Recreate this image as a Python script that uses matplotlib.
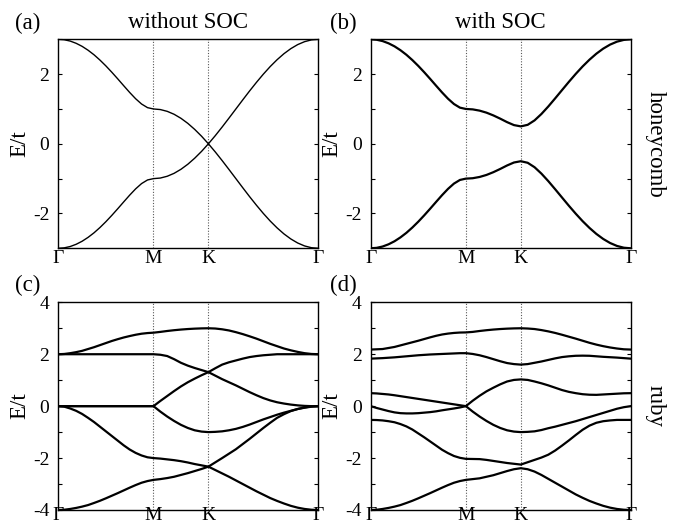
"""
Band structures: honeycomb and ruby lattices, without / with SOC.
Path Gamma-M-K-Gamma, energies in units of t (values read off the figure).
"""

import numpy as np
import matplotlib.pyplot as plt
from matplotlib.ticker import MultipleLocator, FuncFormatter

plt.rcParams['font.family'] = ['Liberation Serif', 'DejaVu Serif']
plt.rcParams['axes.unicode_minus'] = False

# segment lengths of the path Γ-M, M-K, K-Γ
SEG_LEN = [1 / np.sqrt(3), 1 / 3, 2 / 3]
K_LABELS = ['Γ', 'M', 'K', 'Γ']

# every band: 17 samples on Γ-M, then 8 on M-K, then 16 on K-Γ

# ---- honeycomb ----
HC_UP_NOSOC = [3.0, 2.987, 2.949, 2.885, 2.798, 2.687, 2.556, 2.404, 2.236,
               2.054, 1.863, 1.667, 1.474, 1.294, 1.142, 1.038, 1.0,
               0.983, 0.932, 0.848, 0.732, 0.587, 0.414, 0.218, 0.0,
               0.234, 0.482, 0.739, 1.0, 1.261, 1.518, 1.765, 2.0,
               2.218, 2.414, 2.587, 2.732, 2.848, 2.932, 2.983, 3.0]
HC_DN_NOSOC = [-3.0, -2.987, -2.949, -2.885, -2.798, -2.687, -2.556, -2.404, -2.236,
               -2.054, -1.863, -1.667, -1.474, -1.294, -1.142, -1.038, -1.0,
               -0.983, -0.932, -0.848, -0.732, -0.587, -0.414, -0.218, 0.0,
               -0.234, -0.482, -0.739, -1.0, -1.261, -1.518, -1.765, -2.0,
               -2.218, -2.414, -2.587, -2.732, -2.848, -2.932, -2.983, -3.0]

HC_UP_SOC = [3.0, 2.987, 2.949, 2.885, 2.798, 2.687, 2.556, 2.404, 2.236,
             2.054, 1.863, 1.667, 1.474, 1.294, 1.142, 1.038, 1.0,
             0.988, 0.952, 0.894, 0.815, 0.722, 0.622, 0.537, 0.5,
             0.545, 0.672, 0.856, 1.071, 1.304, 1.542, 1.779, 2.007,
             2.221, 2.415, 2.587, 2.732, 2.848, 2.932, 2.983, 3.0]
HC_DN_SOC = [-3.0, -2.987, -2.949, -2.885, -2.798, -2.687, -2.556, -2.404, -2.236,
             -2.054, -1.863, -1.667, -1.474, -1.294, -1.142, -1.038, -1.0,
             -0.988, -0.952, -0.894, -0.815, -0.722, -0.622, -0.537, -0.5,
             -0.545, -0.672, -0.856, -1.071, -1.304, -1.542, -1.779, -2.007,
             -2.221, -2.415, -2.587, -2.732, -2.848, -2.932, -2.983, -3.0]

# ---- ruby ----
RUBY_NOSOC = [
    [2.0, 2.01, 2.04, 2.08, 2.13, 2.20, 2.27, 2.35, 2.43,
     2.51, 2.58, 2.645, 2.70, 2.75, 2.79, 2.815, 2.83,
     2.86, 2.895, 2.925, 2.95, 2.97, 2.985, 2.995, 3.0,
     2.99, 2.96, 2.915, 2.85, 2.775, 2.69, 2.60, 2.5,
     2.40, 2.31, 2.22, 2.15, 2.09, 2.04, 2.01, 2.0],
    [2.0, 2.0, 2.0, 2.0, 2.0, 2.0, 2.0, 2.0, 2.0,
     2.0, 2.0, 2.0, 2.0, 2.0, 2.0, 2.0, 2.0,
     1.98, 1.93, 1.81, 1.67, 1.56, 1.47, 1.39, 1.31,
     1.46, 1.60, 1.69, 1.76, 1.83, 1.89, 1.93, 1.96,
     1.98, 2.0, 2.0, 2.0, 2.0, 2.0, 2.0, 2.0],
    [0.0, 0.0, 0.0, 0.0, 0.0, 0.0, 0.0, 0.0, 0.0,
     0.0, 0.0, 0.0, 0.0, 0.0, 0.0, 0.0, 0.0,
     0.20, 0.39, 0.58, 0.76, 0.92, 1.06, 1.19, 1.31,
     1.175, 1.04, 0.92, 0.80, 0.67, 0.54, 0.42, 0.31,
     0.22, 0.15, 0.10, 0.06, 0.03, 0.01, 0.0, 0.0],
    [0.0, 0.0, 0.0, 0.0, 0.0, 0.0, 0.0, 0.0, 0.0,
     0.0, 0.0, 0.0, 0.0, 0.0, 0.0, 0.0, 0.0,
     -0.21, -0.40, -0.57, -0.72, -0.84, -0.93, -0.98, -1.0,
     -0.99, -0.97, -0.93, -0.875, -0.80, -0.71, -0.61, -0.51,
     -0.42, -0.33, -0.25, -0.18, -0.11, -0.06, -0.02, 0.0],
    [0.0, -0.02, -0.09, -0.18, -0.30, -0.45, -0.61, -0.79, -0.97,
     -1.15, -1.33, -1.51, -1.67, -1.80, -1.90, -1.97, -2.0,
     -2.02, -2.05, -2.08, -2.12, -2.17, -2.23, -2.28, -2.33,
     -2.165, -2.0, -1.83, -1.66, -1.46, -1.26, -1.05, -0.84,
     -0.64, -0.45, -0.31, -0.19, -0.11, -0.05, -0.01, 0.0],
    [-4.0, -3.99, -3.96, -3.92, -3.87, -3.81, -3.73, -3.645, -3.55,
     -3.45, -3.35, -3.245, -3.14, -3.04, -2.95, -2.885, -2.84,
     -2.81, -2.77, -2.72, -2.65, -2.58, -2.5, -2.42, -2.33,
     -2.46, -2.59, -2.72, -2.86, -3.0, -3.14, -3.28, -3.41,
     -3.54, -3.65, -3.75, -3.84, -3.91, -3.96, -3.99, -4.0],
]

RUBY_SOC = [
    [2.18, 2.19, 2.20, 2.24, 2.28, 2.34, 2.40, 2.46, 2.52,
     2.585, 2.65, 2.71, 2.76, 2.795, 2.82, 2.835, 2.84,
     2.86, 2.895, 2.925, 2.95, 2.97, 2.985, 2.995, 3.0,
     2.99, 2.97, 2.93, 2.88, 2.82, 2.75, 2.675, 2.60,
     2.52, 2.44, 2.37, 2.31, 2.26, 2.22, 2.19, 2.18],
    [1.83, 1.84, 1.85, 1.865, 1.88, 1.90, 1.92, 1.94, 1.96,
     1.975, 1.99, 2.0, 2.01, 2.02, 2.03, 2.04, 2.04,
     2.01, 1.96, 1.89, 1.81, 1.73, 1.66, 1.62, 1.60,
     1.62, 1.67, 1.72, 1.78, 1.84, 1.89, 1.92, 1.94,
     1.945, 1.94, 1.92, 1.90, 1.885, 1.87, 1.85, 1.83],
    [0.50, 0.49, 0.47, 0.45, 0.42, 0.385, 0.35, 0.315, 0.28,
     0.245, 0.21, 0.175, 0.14, 0.105, 0.07, 0.035, 0.0,
     0.21, 0.40, 0.57, 0.71, 0.84, 0.95, 1.01, 1.03,
     1.01, 0.95, 0.88, 0.80, 0.71, 0.62, 0.55, 0.50,
     0.46, 0.44, 0.435, 0.45, 0.465, 0.48, 0.495, 0.50],
    [0.0, -0.07, -0.13, -0.19, -0.24, -0.27, -0.28, -0.28, -0.27,
     -0.25, -0.23, -0.20, -0.16, -0.125, -0.09, -0.05, 0.0,
     -0.21, -0.40, -0.57, -0.72, -0.84, -0.93, -0.98, -1.0,
     -0.99, -0.97, -0.92, -0.85, -0.79, -0.72, -0.65, -0.58,
     -0.50, -0.42, -0.34, -0.26, -0.18, -0.10, -0.04, 0.0],
    [-0.53, -0.535, -0.55, -0.58, -0.62, -0.69, -0.78, -0.90, -1.05,
     -1.20, -1.36, -1.52, -1.68, -1.81, -1.92, -1.99, -2.03,
     -2.035, -2.04, -2.07, -2.11, -2.15, -2.19, -2.22, -2.25,
     -2.16, -2.07, -1.98, -1.87, -1.71, -1.52, -1.32, -1.11,
     -0.91, -0.75, -0.64, -0.58, -0.55, -0.53, -0.53, -0.53],
    [-4.0, -3.99, -3.96, -3.92, -3.87, -3.81, -3.73, -3.645, -3.55,
     -3.45, -3.35, -3.245, -3.14, -3.04, -2.95, -2.885, -2.84,
     -2.81, -2.78, -2.72, -2.66, -2.58, -2.50, -2.43, -2.39,
     -2.43, -2.52, -2.65, -2.80, -2.95, -3.10, -3.25, -3.40,
     -3.53, -3.65, -3.75, -3.84, -3.91, -3.96, -3.99, -4.0],
]


def kpath(n_gm, n_mk, n_kg):
    """k coordinate of the samples along Γ-M-K-Γ."""
    nodes = np.concatenate([[0.0], np.cumsum(SEG_LEN)])
    parts = [np.linspace(nodes[0], nodes[1], n_gm + 1)]
    parts.append(np.linspace(nodes[1], nodes[2], n_mk + 1)[1:])
    parts.append(np.linspace(nodes[2], nodes[3], n_kg + 1)[1:])
    return np.concatenate(parts), nodes


def even_only(v, pos):
    iv = int(round(v))
    return str(iv) if iv % 2 == 0 else ''


def setup_axis(ax, nodes, ylim, xpad):
    ax.set_xlim(nodes[0], nodes[-1])
    ax.set_ylim(*ylim)
    for xv in nodes[1:-1]:
        ax.axvline(xv, color='0.35', ls=(0, (1, 1.5)), lw=0.8, zorder=0)
    ax.set_xticks(nodes)
    ax.set_xticklabels(K_LABELS)
    ax.tick_params(axis='x', length=0, pad=xpad, labelsize=14)
    ax.yaxis.set_major_locator(MultipleLocator(1))
    ax.yaxis.set_major_formatter(FuncFormatter(even_only))
    ax.tick_params(axis='y', direction='in', length=3, width=0.8,
                   left=True, right=True, pad=6.5, labelsize=14)
    for sp in ax.spines.values():
        sp.set_linewidth(1.0)


if __name__ == "__main__":
    fig = plt.figure(figsize=(6.78, 5.31), dpi=100)
    W, H = 678, 531

    def add_ax(x0, y0, x1, y1):
        return fig.add_axes([x0 / W, 1 - y1 / H, (x1 - x0) / W, (y1 - y0) / H])

    ax_a = add_ax(58.3, 39.3, 318.3, 248.3)
    ax_b = add_ax(370.7, 39.3, 630.7, 248.3)
    ax_c = add_ax(58.3, 302.3, 318.3, 510.0)
    ax_d = add_ax(370.7, 302.3, 630.7, 510.0)

    k, nodes = kpath(16, 8, 16)

    for band in (HC_UP_NOSOC, HC_DN_NOSOC):
        ax_a.plot(k, band, color='k', lw=1.0)
    for band in (HC_UP_SOC, HC_DN_SOC):
        ax_b.plot(k, band, color='k', lw=1.6)
    for band in RUBY_NOSOC:
        ax_c.plot(k, band, color='k', lw=1.6)
    for band in RUBY_SOC:
        ax_d.plot(k, band, color='k', lw=1.6)

    setup_axis(ax_a, nodes, (-3, 3), 1.2)
    setup_axis(ax_b, nodes, (-3, 3), 1.2)
    setup_axis(ax_c, nodes, (-4, 4), -1.9)
    setup_axis(ax_d, nodes, (-4, 4), -1.9)

    fs = 16.5
    for y_px, (la, lb) in ((23, ('(a)', '(b)')), (285, ('(c)', '(d)'))):
        fig.text(15 / W, 1 - y_px / H, la, ha='left', va='center', fontsize=fs)
        fig.text(330 / W, 1 - y_px / H, lb, ha='left', va='center', fontsize=fs)
    fig.text(188.3 / W, 1 - 22 / H, 'without SOC', ha='center', va='center', fontsize=fs)
    fig.text(500.7 / W, 1 - 22 / H, 'with SOC', ha='center', va='center', fontsize=fs)
    fig.text(655 / W, 1 - 144 / H, 'honeycomb', ha='center', va='center',
             rotation=270, fontsize=fs)
    fig.text(655 / W, 1 - 406 / H, 'ruby', ha='center', va='center',
             rotation=270, fontsize=fs)
    for x_px, y_px in ((20, 144), (20, 406), (332, 144), (332, 406)):
        fig.text(x_px / W, 1 - y_px / H, 'E/t', ha='center', va='center',
                 rotation=90, fontsize=fs)

    fig.savefig('out.png', dpi=100)
